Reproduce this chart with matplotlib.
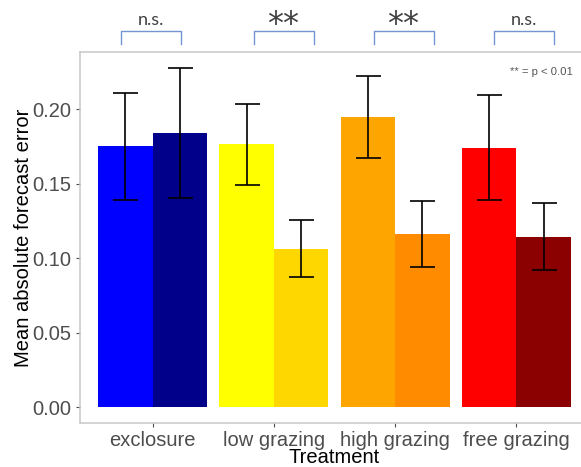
import numpy as np
import matplotlib
matplotlib.use("Agg")
import matplotlib.pyplot as plt

# data
treatments = ['exclosure', 'low grazing', 'high grazing', 'free grazing']
mean_a = [0.175, 0.1765, 0.1948, 0.174]
lo_a = [0.139, 0.149, 0.167, 0.139]
hi_a = [0.211, 0.2035, 0.2225, 0.2095]
mean_b = [0.184, 0.106, 0.116, 0.114]
lo_b = [0.140, 0.087, 0.094, 0.092]
hi_b = [0.2275, 0.1255, 0.1385, 0.137]
colors_a = ['#0000FF', '#FFFF00', '#FFA500', '#FF0000']
colors_b = ['#00008B', '#FFD700', '#FF8C00', '#8B0000']
sig = ['n.s.', '**', '**', 'n.s.']

plt.rcParams['font.family'] = ['Liberation Sans', 'DejaVu Sans']

fig = plt.figure(figsize=(5.81, 4.67), dpi=100)
ax = fig.add_axes([80/581, 44/467, 509/581, 371/467])

x = np.arange(1, len(treatments) + 1)
w = 0.45
ax.bar(x - w/2, mean_a, w, color=colors_a)
ax.bar(x + w/2, mean_b, w, color=colors_b)

err_a = [np.array(mean_a) - np.array(lo_a), np.array(hi_a) - np.array(mean_a)]
err_b = [np.array(mean_b) - np.array(lo_b), np.array(hi_b) - np.array(mean_b)]
ax.errorbar(x - w/2, mean_a, yerr=err_a, fmt='none', ecolor='black', elinewidth=1.2, capsize=9, capthick=1.2)
ax.errorbar(x + w/2, mean_b, yerr=err_b, fmt='none', ecolor='black', elinewidth=1.2, capsize=9, capthick=1.2)

ax.set_xlim(0.4, 4.6)
ax.set_ylim(-0.01074, 0.2383)
ax.set_xticks(x)
ax.set_xticklabels(treatments)
ax.set_yticks([0, 0.05, 0.10, 0.15, 0.20])
ax.set_yticklabels(['0.00', '0.05', '0.10', '0.15', '0.20'])
ax.tick_params(colors='#4D4D4D', labelsize=14.5, length=3, width=0.8)
ax.tick_params(axis='x', pad=3)
ax.tick_params(axis='y', pad=3)
for lbl in ax.get_xticklabels() + ax.get_yticklabels():
    lbl.set_color('#4D4D4D')
for s in ax.spines.values():
    s.set_color('#C8C8C8')
    s.set_linewidth(1.1)
ax.spines['right'].set_visible(False)

ax.set_xlabel('Treatment', fontsize=14.5, labelpad=-2)
ax.set_ylabel('Mean absolute forecast error', fontsize=14.5, labelpad=0)

# significance brackets above the panel
bcol = '#7396D2'
spans = [(0.739, 1.231), (1.835, 2.330), (2.824, 3.319), (3.813, 4.308)]
for (xl, xr), s in zip(spans, sig):
    ax.plot([xl, xl, xr, xr], [0.2440, 0.2523, 0.2523, 0.2440], color=bcol,
            lw=1.0, clip_on=False, solid_joinstyle='round')
    if s == 'n.s.':
        ax.text((xl + xr) / 2, 0.2545, s, ha='center', va='bottom', fontsize=13,
                color='#404040', family=['Lato', 'DejaVu Sans'], clip_on=False)
    else:
        ax.text((xl + xr) / 2 - 0.01, 0.2462, '**', ha='center', va='bottom', fontsize=23,
                color='#404040', family=['DejaVu Sans'], clip_on=False)

ax.text(573, 467 - 72, '** = p < 0.01', transform=None, ha='right', va='center',
        fontsize=8.2, color='#555555')

fig.savefig('out.png', dpi=100)
